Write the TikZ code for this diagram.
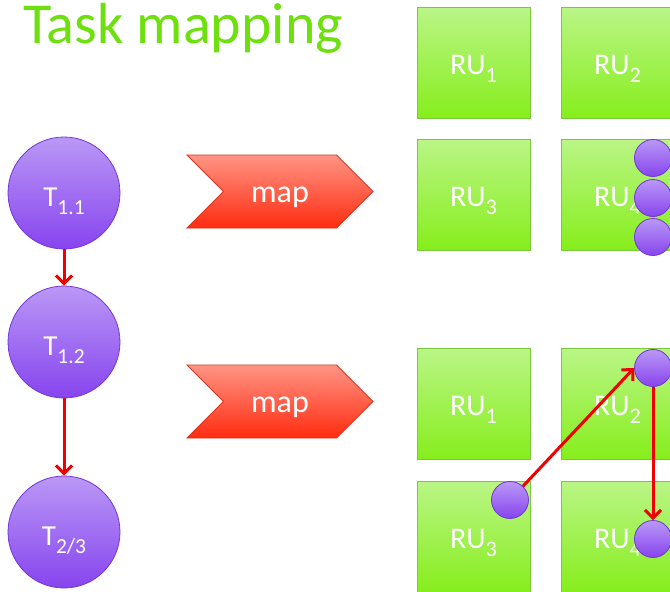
\documentclass[tikz,border=0pt]{standalone}
\usepackage{fontspec}
\setmainfont{Carlito}
\usetikzlibrary{arrows.meta,shapes.symbols}

\definecolor{titlegreen}{HTML}{6EE010}
\definecolor{ruTop}{HTML}{BAF586}
\definecolor{ruBottom}{HTML}{86EE1C}
\definecolor{ruEdge}{HTML}{7CC83C}
\definecolor{taskTop}{HTML}{BA98F6}
\definecolor{taskBottom}{HTML}{8744EE}
\definecolor{taskEdge}{HTML}{7436D6}
\definecolor{mapTop}{HTML}{FF9484}
\definecolor{mapMid}{HTML}{FF4A36}
\definecolor{mapBottom}{HTML}{FF2C10}
\definecolor{mapEdge}{HTML}{D83422}
\definecolor{flow}{HTML}{F00000}

% lowered subscript in the same family
\newcommand\lowsub[1]{\raisebox{-0.28em}{\scalebox{0.74}{#1}}}

\tikzset{
  unit/.style={rectangle, minimum width=113pt, minimum height=111pt,
    top color=ruTop, bottom color=ruBottom, draw=ruEdge, line width=0.8pt,
    text=white, font=\fontsize{30}{30}\selectfont,
    text height=22pt, text depth=0pt, inner sep=0pt},
  task/.style={circle, minimum size=112pt, inner sep=0pt,
    top color=taskTop, bottom color=taskBottom, draw=taskEdge, line width=0.8pt,
    text=white, font=\fontsize{29}{29}\selectfont,
    text height=27pt, text depth=0pt},
  dot/.style={circle, minimum size=37pt, inner sep=0pt,
    top color=taskTop, bottom color=taskBottom, draw=taskEdge, line width=0.8pt},
  mapper/.style={signal, signal to=east, signal from=west, signal pointer angle=90,
    minimum width=186pt, minimum height=73pt, inner sep=0pt,
    top color=mapTop, middle color=mapMid, bottom color=mapBottom,
    draw=mapEdge, line width=0.8pt,
    text=white, font=\fontsize{32}{32}\selectfont,
    text height=22pt, text depth=0pt},
  link/.style={draw=flow, line width=3pt,
    -{Straight Barb[length=8pt,width=16pt,line width=3pt]}},
}

\begin{document}
\begin{tikzpicture}[x=1pt,y=-1pt]
\useasboundingbox (0,0) rectangle (670,592);
\clip (0,0) rectangle (670,592);

% heading
\node[anchor=base west, inner sep=0pt, text=titlegreen,
  font=\fontsize{58}{58}\selectfont] (title) at (23,43) {Task mapping};

% task graph
\node[task] (t11) at (64,193) {T\lowsub{1.1}};
\node[task] (t12) at (64,342) {T\lowsub{1.2}};
\node[task] (t23) at (64,532) {T\lowsub{2/3}};
\draw[link] (t11) -- (t12);
\draw[link] (t12) -- (t23);

% mapping chevrons
\node[mapper] (mapA) at (280,191.5) {map};
\node[mapper] (mapB) at (280,401.5) {map};

% first mapping: all tasks on one unit
\node[unit] (a1) at (473.5,63)  {RU\lowsub{1}};
\node[unit] (a2) at (617.5,63)  {RU\lowsub{2}};
\node[unit] (a3) at (473.5,195) {RU\lowsub{3}};
\node[unit] (a4) at (617.5,195) {RU\lowsub{4}};
\node[dot] (a4x) at (653,158) {};
\node[dot] (a4y) at (653,198) {};
\node[dot] (a4z) at (653,237) {};

% second mapping: tasks spread over units
\node[unit] (b1) at (473.5,404) {RU\lowsub{1}};
\node[unit] (b2) at (617.5,404) {RU\lowsub{2}};
\node[unit] (b3) at (473.5,537) {RU\lowsub{3}};
\node[unit] (b4) at (617.5,537) {RU\lowsub{4}};
\node[dot] (b3x) at (510,500) {};
\node[dot] (b2x) at (653,368) {};
\node[dot] (b4x) at (653,539) {};
\draw[link] (b3x) -- (b2x.west);
\draw[link] (b2x) -- (b4x);
\end{tikzpicture}
\end{document}
